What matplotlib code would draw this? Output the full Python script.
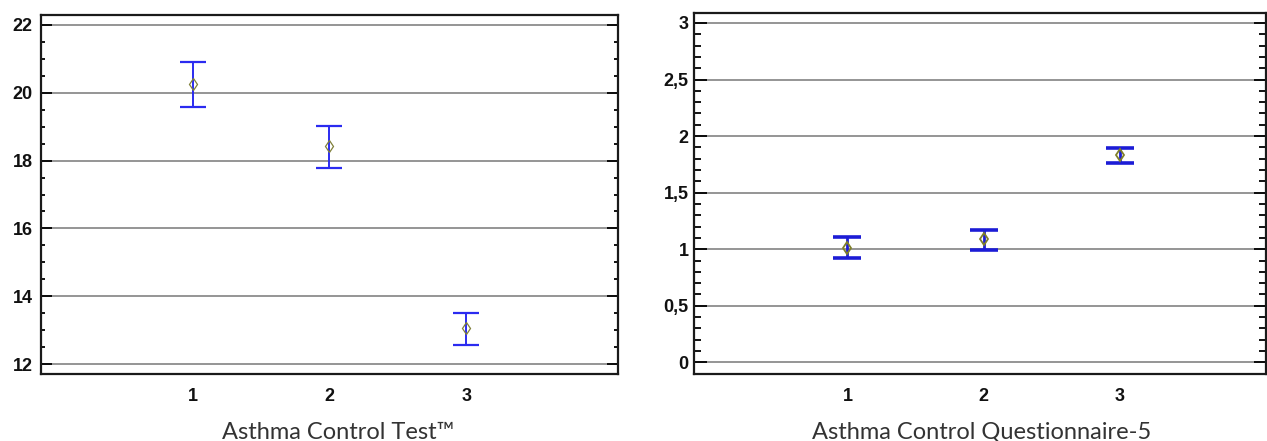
import matplotlib.pyplot as plt
from matplotlib.ticker import MultipleLocator, FuncFormatter

plt.rcParams['font.family'] = ['Liberation Sans', 'DejaVu Sans']
plt.rcParams['font.weight'] = 'bold'
plt.rcParams['xtick.labelsize'] = 13
plt.rcParams['ytick.labelsize'] = 13
plt.rcParams['xtick.color'] = '#111111'
plt.rcParams['ytick.color'] = '#111111'

# Group means with lower / upper interval limits
groups = [1, 2, 3]
act_mean = [20.27, 18.42, 13.06]
act_low = [19.57, 17.78, 12.57]
act_high = [20.92, 19.03, 13.52]

acq_mean = [1.015, 1.088, 1.835]
acq_low = [0.918, 0.997, 1.759]
acq_high = [1.112, 1.168, 1.891]

act_label = 'Asthma Control Test\u2122'
acq_label = 'Asthma Control Questionnaire-5'


def comma_fmt(v, pos):
    s = ('%g' % v)
    return s.replace('.', ',')


def style_axes(ax, major, minor, maj_len, min_len):
    ax.yaxis.set_major_locator(MultipleLocator(major))
    ax.yaxis.set_minor_locator(MultipleLocator(minor))
    ax.yaxis.set_major_formatter(FuncFormatter(comma_fmt))
    ax.set_xticks(groups)
    ax.set_xticklabels([str(g) for g in groups])
    ax.grid(axis='y', which='major', color='#8c8c8c', linewidth=1.3)
    ax.set_axisbelow(True)
    ax.tick_params(axis='y', which='both', direction='in', left=True, right=True,
                   width=1.3, color='black')
    ax.tick_params(axis='y', which='major', length=maj_len)
    ax.tick_params(axis='y', which='minor', length=min_len)
    ax.tick_params(axis='x', length=0, pad=10)
    for sp in ax.spines.values():
        sp.set_linewidth(1.6)
        sp.set_color('#1a1a1a')


fig = plt.figure(figsize=(12.67, 4.41), dpi=100)

# Left panel: ACT
ax1 = fig.add_axes([41 / 1267, 66.7 / 441, 577 / 1267, 359.6 / 441])
ax1.errorbar(groups, act_mean,
             yerr=[[m - l for m, l in zip(act_mean, act_low)],
                   [h - m for m, h in zip(act_mean, act_high)]],
             fmt='none', ecolor='#2b2bf0', elinewidth=1.4, capsize=9.5, capthick=1.6)
ax1.plot(groups, act_mean, linestyle='none', marker='d', markersize=6,
         markerfacecolor='none', markeredgecolor='#80803a', markeredgewidth=0.9)
ax1.set_xlim(-0.11, 4.11)
ax1.set_ylim(11.70, 22.30)
ax1.tick_params(axis='y', pad=6)
style_axes(ax1, 2, 0.5, 8, 3)

# Right panel: ACQ-5
ax2 = fig.add_axes([694 / 1267, 66.7 / 441, 572 / 1267, 361.6 / 441])
ax2.errorbar(groups, acq_mean,
             yerr=[[m - l for m, l in zip(acq_mean, acq_low)],
                   [h - m for m, h in zip(acq_mean, acq_high)]],
             fmt='none', ecolor='#1c1cd6', elinewidth=2.0, capsize=10, capthick=2.6)
ax2.plot(groups, acq_mean, linestyle='none', marker='d', markersize=6,
         markerfacecolor='none', markeredgecolor='#80802a', markeredgewidth=1.3)
ax2.set_xlim(-0.125, 4.07)
ax2.set_ylim(-0.106, 3.091)
ax2.tick_params(axis='y', pad=4)
style_axes(ax2, 0.5, 0.1, 9, 5)

# Axis titles below each panel
fig.text(338 / 1267, 2 / 441, act_label, ha='center', va='baseline',
         fontfamily='Lato', fontweight='normal', fontsize=17, color='#333333')
fig.text(982 / 1267, 2 / 441, acq_label, ha='center', va='baseline',
         fontfamily='Lato', fontweight='normal', fontsize=17, color='#333333')

fig.savefig('out.png', dpi=100)
